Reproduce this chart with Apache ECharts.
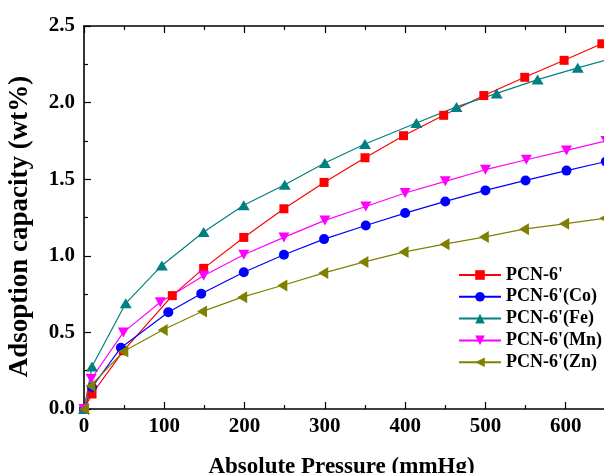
<!DOCTYPE html>
<html>
<head>
<meta charset="utf-8">
<script src="https://cdn.jsdelivr.net/npm/echarts@6/dist/echarts.min.js"></script>
<style>
  html, body { margin: 0; padding: 0; background: #fff; }
  #chart { width: 604px; height: 473px; }
</style>
</head>
<body>
<div id="chart"></div>
<script>
// H2 uptake isotherms, pressure in mmHg, capacity in wt%
const seriesNames = ["PCN-6'", "PCN-6'(Co)", "PCN-6'(Fe)", "PCN-6'(Mn)", "PCN-6'(Zn)"];

const pcn6P  = [0, 10, 49, 110, 149, 199, 249, 299, 350, 398, 448, 498, 549, 598, 645];
const pcn6C  = [0, 0.098, 0.38, 0.74, 0.918, 1.12, 1.307, 1.479, 1.64, 1.784, 1.917, 2.046, 2.165, 2.276, 2.384];

const coP    = [0, 10, 46, 105, 146, 199, 249, 299, 351, 400, 450, 500, 550, 601, 650];
const coC    = [0, 0.142, 0.40, 0.632, 0.752, 0.893, 1.007, 1.109, 1.198, 1.279, 1.355, 1.427, 1.492, 1.556, 1.615];

const feP    = [0, 10, 52, 97, 149, 199, 250, 300, 350, 414, 464, 514, 565, 615, 665];
const feC    = [0, 0.277, 0.69, 0.937, 1.155, 1.33, 1.464, 1.606, 1.73, 1.867, 1.972, 2.06, 2.15, 2.227, 2.30];

const mnP    = [0, 9, 49, 95, 149, 199, 249, 300, 351, 400, 450, 500, 551, 601, 650];
const mnC    = [0, 0.196, 0.50, 0.697, 0.87, 1.007, 1.12, 1.231, 1.322, 1.41, 1.486, 1.562, 1.627, 1.688, 1.75];

const znP    = [0, 8, 49, 98, 147, 197, 247, 298, 348, 398, 449, 498, 548, 598, 648];
const znC    = [0, 0.15, 0.375, 0.516, 0.636, 0.73, 0.806, 0.887, 0.959, 1.024, 1.076, 1.122, 1.174, 1.209, 1.245];

const xTicks = [0, 100, 200, 300, 400, 500, 600];
const yTicks = [0.0, 0.5, 1.0, 1.5, 2.0, 2.5];

const pair = (xs, ys) => xs.map((x, i) => [x, ys[i]]);

const FONT = "'Liberation Serif', 'Times New Roman', serif";

const axisCommon = {
  axisLine: { show: true, lineStyle: { color: '#000', width: 1.6 } },
  axisTick: { show: true, inside: true, length: 7, lineStyle: { color: '#000', width: 1.2 } },
  minorTick: { show: true, splitNumber: 2, length: 4, lineStyle: { color: '#000', width: 1.2 } },
  splitLine: { show: false },
  minorSplitLine: { show: false }
};

function lineSeries(name, data, color, symbol, size, rotate) {
  return {
    name: name,
    type: 'line',
    data: data,
    symbol: symbol,
    symbolSize: size,
    symbolRotate: rotate,
    lineStyle: { color: color, width: 1.2 },
    itemStyle: { color: color },
    clip: true,
    z: 3
  };
}

const chart = echarts.init(document.getElementById('chart'), null, { renderer: 'canvas' });

// the plotting frame runs past the right edge of the canvas (0–700 mmHg)
chart.setOption({
  animation: false,
  backgroundColor: '#fff',
  grid: { left: 84, width: 562, top: 26, height: 383, outerBoundsMode: 'none', containLabel: false },
  legend: {
    data: seriesNames,
    orient: 'vertical',
    left: 458,
    top: 266,
    padding: 0,
    itemWidth: 42,
    itemHeight: 12,
    itemGap: 3.8,
    textStyle: { fontFamily: FONT, fontWeight: 'bold', fontSize: 18, color: '#000', lineHeight: 18 }
  },
  xAxis: [
    Object.assign({}, axisCommon, {
      type: 'value',
      min: 0,
      max: 700,
      interval: 100,
      position: 'bottom',
      name: 'Absolute Pressure (mmHg)',
      nameLocation: 'middle',
      nameGap: 47,
      nameTextStyle: { fontFamily: FONT, fontWeight: 'bold', fontSize: 23, color: '#000', padding: [0, 47, 0, 0] },
      axisLabel: {
        margin: 7,
        fontFamily: FONT, fontWeight: 'bold', fontSize: 21, color: '#000',
        formatter: v => (xTicks.indexOf(v) >= 0 ? String(v) : '')
      }
    }),
    Object.assign({}, axisCommon, {
      type: 'value',
      min: 0,
      max: 700,
      interval: 100,
      position: 'top',
      axisLabel: { show: false }
    })
  ],
  yAxis: Object.assign({}, axisCommon, {
    type: 'value',
    min: 0,
    max: 2.5,
    interval: 0.5,
    name: 'Adsoption capacity (wt%)',
    nameLocation: 'middle',
    nameGap: 50,
    nameTextStyle: { fontFamily: FONT, fontWeight: 'bold', fontSize: 27, color: '#000', padding: [0, 18, 0, 0] },
    axisLabel: {
      margin: 9,
      fontFamily: FONT, fontWeight: 'bold', fontSize: 21, color: '#000',
      formatter: v => {
        const t = yTicks.find(k => Math.abs(k - v) < 1e-9);
        return t === undefined ? '' : t.toFixed(1);
      }
    }
  }),
  series: [
    lineSeries(seriesNames[0], pair(pcn6P, pcn6C), '#ff0000', 'rect', 9, 0),
    lineSeries(seriesNames[1], pair(coP, coC), '#0000ff', 'circle', 10, 0),
    lineSeries(seriesNames[2], pair(feP, feC), '#008080', 'triangle', [12, 10], 0),
    lineSeries(seriesNames[3], pair(mnP, mnC), '#ff00ff', 'triangle', [11, 10], 180),
    lineSeries(seriesNames[4], pair(znP, znC), '#808000', 'triangle', [12, 10], 90)
  ]
});
</script>
</body>
</html>
